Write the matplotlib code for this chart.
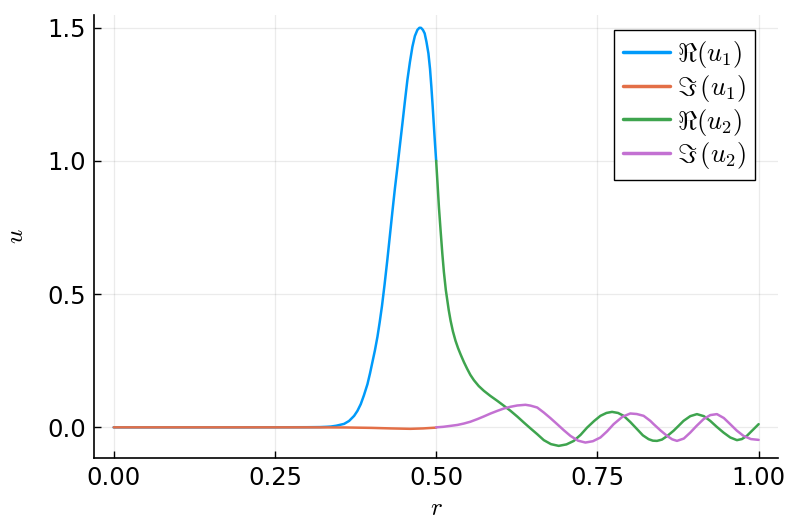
import matplotlib
matplotlib.use("Agg")
import matplotlib.pyplot as plt

# ---- data ----
r_u1 = [0.0, 0.10, 0.20, 0.30, 0.32, 0.33, 0.3367, 0.345, 0.3573, 0.365, 0.3728, 0.378,
        0.3831, 0.388, 0.3935, 0.3975, 0.4012, 0.405, 0.409, 0.4125, 0.416, 0.420, 0.4244,
        0.4283, 0.4322, 0.436, 0.440, 0.4438, 0.4477, 0.4515, 0.4554, 0.4593, 0.4632,
        0.4670, 0.4709, 0.4740, 0.4765, 0.4795, 0.4822, 0.485, 0.488, 0.4905, 0.4926,
        0.4946, 0.4966, 0.4982, 0.500]
re_u1 = [0.0, 0.0, 0.0, 0.0005, 0.001, 0.002, 0.003, 0.006, 0.013, 0.024, 0.043, 0.062,
         0.087, 0.120, 0.162, 0.203, 0.245, 0.288, 0.34, 0.395, 0.455, 0.535, 0.63,
         0.72, 0.81, 0.895, 0.977, 1.058, 1.140, 1.222, 1.303, 1.370, 1.428,
         1.468, 1.491, 1.499, 1.499, 1.491, 1.478, 1.446, 1.403, 1.345, 1.277,
         1.205, 1.127, 1.065, 1.0]

r_im1 = [0.0, 0.10, 0.20, 0.30, 0.36, 0.40, 0.43, 0.46, 0.48, 0.50]
im_u1 = [0.0, 0.0, 0.0, 0.0, -0.0005, -0.002, -0.004, -0.0056, -0.004, -0.001]

r_re2 = [0.500, 0.5022, 0.5043, 0.507, 0.5096, 0.512, 0.515, 0.5195, 0.5224, 0.526, 0.530,
         0.534, 0.538, 0.543, 0.548, 0.553, 0.5585, 0.566, 0.574, 0.584, 0.5947, 0.605,
         0.6153, 0.626, 0.636, 0.6463, 0.6567, 0.6669, 0.678, 0.690, 0.702, 0.7133, 0.724,
         0.734, 0.745, 0.7547, 0.764, 0.7727, 0.782, 0.7907, 0.801, 0.8115, 0.8205, 0.8294,
         0.836, 0.8424, 0.850, 0.858, 0.868, 0.876, 0.8836, 0.894, 0.9043, 0.915, 0.9249,
         0.935, 0.9455, 0.956, 0.9663, 0.974, 0.9817, 0.990, 1.0]
re_u2 = [1.0, 0.912, 0.826, 0.735, 0.651, 0.583, 0.515, 0.44, 0.40, 0.36, 0.325,
         0.297, 0.273, 0.245, 0.22, 0.197, 0.177, 0.155, 0.137, 0.118, 0.0996, 0.081,
         0.062, 0.040, 0.018, -0.004, -0.0256, -0.048, -0.063, -0.0695, -0.064, -0.051, -0.028,
         -0.001, 0.024, 0.0432, 0.054, 0.058, 0.054, 0.0432, 0.020, -0.0068, -0.030, -0.0444,
         -0.050, -0.0508, -0.046, -0.033, -0.013, 0.006, 0.0244, 0.042, 0.0496, 0.042, 0.0244,
         0.002, -0.0195, -0.038, -0.048, -0.044, -0.032, -0.012, 0.012]

r_im2 = [0.500, 0.511, 0.5224, 0.533, 0.543, 0.553, 0.5638, 0.574, 0.5844, 0.595, 0.605,
         0.615, 0.6257, 0.6385, 0.6463, 0.6567, 0.6669, 0.677, 0.6876, 0.698, 0.7082, 0.720,
         0.7314, 0.743, 0.7547, 0.765, 0.7752, 0.789, 0.801, 0.811, 0.8217, 0.832, 0.8372,
         0.848, 0.858, 0.866, 0.8734, 0.884, 0.894, 0.904, 0.9146, 0.925, 0.9353, 0.946,
         0.9559, 0.966, 0.9765, 0.988, 1.0]
im_u2 = [0.0, 0.002, 0.0056, 0.009, 0.0143, 0.021, 0.0308, 0.041, 0.052, 0.062, 0.0707,
         0.077, 0.082, 0.0846, 0.0815, 0.0744, 0.0556, 0.035, 0.012, -0.011, -0.032, -0.050,
         -0.057, -0.052, -0.038, -0.015, 0.012, 0.040, 0.052, 0.050, 0.0432, 0.0244, 0.012,
         -0.012, -0.032, -0.045, -0.0508, -0.042, -0.0195, 0.006, 0.0308, 0.046, 0.0496, 0.035,
         0.012, -0.012, -0.032, -0.044, -0.047]

labels = [r'$\Re(u_1)$', r'$\Im\,(u_1)$', r'$\Re(u_2)$', r'$\Im\,(u_2)$']
colors = ['#009AFA', '#E36F47', '#3EA44E', '#C371D2']
xticks = [0.0, 0.25, 0.5, 0.75, 1.0]
xticklabels = ['0.00', '0.25', '0.50', '0.75', '1.00']
yticks = [0.0, 0.5, 1.0, 1.5]
yticklabels = ['0.0', '0.5', '1.0', '1.5']

plt.rcParams['mathtext.fontset'] = 'cm'
plt.rcParams['font.family'] = ['DejaVu Sans']

fig = plt.figure(figsize=(7.93, 5.29), dpi=100)
ax = fig.add_axes([94.3 / 793, 1 - 458 / 529, (778 - 94.3) / 793, (458 - 15) / 529])

series = [(r_u1, re_u1), (r_im1, im_u1), (r_re2, re_u2), (r_im2, im_u2)]
for (xs, ys), lab, c in zip(series, labels, colors):
    ax.plot(xs, ys, color=c, lw=1.8, label=lab, solid_capstyle='round',
            solid_joinstyle='round')

ax.set_xlim(-0.03, 1.03)
ax.set_ylim(-0.115, 1.547)
ax.set_xticks(xticks)
ax.set_xticklabels(xticklabels)
ax.set_yticks(yticks)
ax.set_yticklabels(yticklabels)
ax.tick_params(direction='in', length=5, width=1, labelsize=17.5, colors='black', pad=6)
ax.grid(True, color='black', alpha=0.08, lw=0.9)
ax.set_axisbelow(True)
for s in ['top', 'right']:
    ax.spines[s].set_visible(False)
for s in ['left', 'bottom']:
    ax.spines[s].set_linewidth(1.2)

ax.set_xlabel(r'$r$', fontsize=18)
ax.set_ylabel(r'$u$', fontsize=18, labelpad=14)

leg = ax.legend(loc='upper right', bbox_to_anchor=(0.9664, 0.966), borderaxespad=0,
                fontsize=19, frameon=True, fancybox=False, framealpha=1,
                edgecolor='black', handlelength=1.8, handletextpad=0.25,
                labelspacing=0.1, borderpad=0.35)
leg.get_frame().set_linewidth(1.0)
for line in leg.get_lines():
    line.set_linewidth(2.5)

fig.savefig('out.png', dpi=100)
